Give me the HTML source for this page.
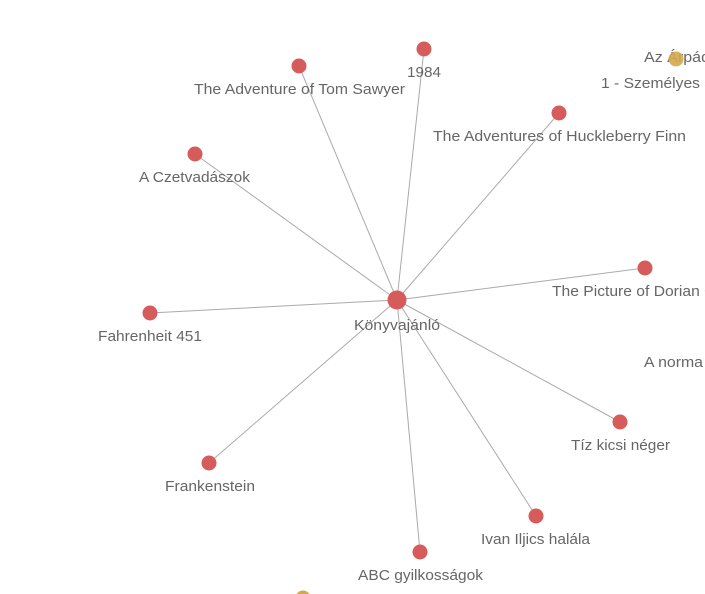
<!DOCTYPE html>
<html><head><meta charset="utf-8"><style>
html,body{margin:0;padding:0;background:#fff;width:705px;height:594px;overflow:hidden}
text{font-family:"Liberation Sans",sans-serif;font-size:15px;fill:#666}
</style></head><body>
<svg width="705" height="594" viewBox="0 0 705 594" xmlns="http://www.w3.org/2000/svg">
<g stroke="#aaa" stroke-width="1">
<line x1="397" y1="300" x2="299" y2="66"/>
<line x1="397" y1="300" x2="424" y2="49"/>
<line x1="397" y1="300" x2="559" y2="113"/>
<line x1="397" y1="300" x2="195" y2="154"/>
<line x1="397" y1="300" x2="150" y2="313"/>
<line x1="397" y1="300" x2="645" y2="268"/>
<line x1="397" y1="300" x2="620" y2="422"/>
<line x1="397" y1="300" x2="209" y2="463"/>
<line x1="397" y1="300" x2="536" y2="516"/>
<line x1="397" y1="300" x2="420" y2="552"/>
</g>
<g>
<text x="644" y="62" textLength="66" lengthAdjust="spacingAndGlyphs">Az Árpád</text>
<text x="601" y="88" textLength="112" lengthAdjust="spacingAndGlyphs">1 - Személyes a</text>
<text x="644" y="367" textLength="59" lengthAdjust="spacingAndGlyphs">A norma</text>
</g>
<circle cx="676" cy="59" r="7.5" fill="#d4a94e" opacity="0.9"/>
<circle cx="303" cy="598" r="7.5" fill="#d4a94e"/>
<g fill="#d65b5b">
<circle cx="397" cy="300" r="9.5"/>
<circle cx="299" cy="66" r="7.5"/>
<circle cx="424" cy="49" r="7.5"/>
<circle cx="559" cy="113" r="7.5"/>
<circle cx="195" cy="154" r="7.5"/>
<circle cx="150" cy="313" r="7.5"/>
<circle cx="645" cy="268" r="7.5"/>
<circle cx="620" cy="422" r="7.5"/>
<circle cx="209" cy="463" r="7.5"/>
<circle cx="536" cy="516" r="7.5"/>
<circle cx="420" cy="552" r="7.5"/>
</g>
<g>
<text x="194" y="94" textLength="211" lengthAdjust="spacingAndGlyphs">The Adventure of Tom Sawyer</text>
<text x="407" y="77" textLength="34" lengthAdjust="spacingAndGlyphs">1984</text>
<text x="433" y="141" textLength="253" lengthAdjust="spacingAndGlyphs">The Adventures of Huckleberry Finn</text>
<text x="139" y="182" textLength="111" lengthAdjust="spacingAndGlyphs">A Czetvadászok</text>
<text x="98" y="341" textLength="104" lengthAdjust="spacingAndGlyphs">Fahrenheit 451</text>
<text x="552" y="296" textLength="186" lengthAdjust="spacingAndGlyphs">The Picture of Dorian Gray</text>
<text x="354" y="330" textLength="86" lengthAdjust="spacingAndGlyphs">Könyvajánló</text>
<text x="571" y="450" textLength="99" lengthAdjust="spacingAndGlyphs">Tíz kicsi néger</text>
<text x="165" y="491" textLength="90" lengthAdjust="spacingAndGlyphs">Frankenstein</text>
<text x="481" y="544" textLength="109" lengthAdjust="spacingAndGlyphs">Ivan Iljics halála</text>
<text x="358" y="580" textLength="125" lengthAdjust="spacingAndGlyphs">ABC gyilkosságok</text>
</g>
</svg>
</body></html>
